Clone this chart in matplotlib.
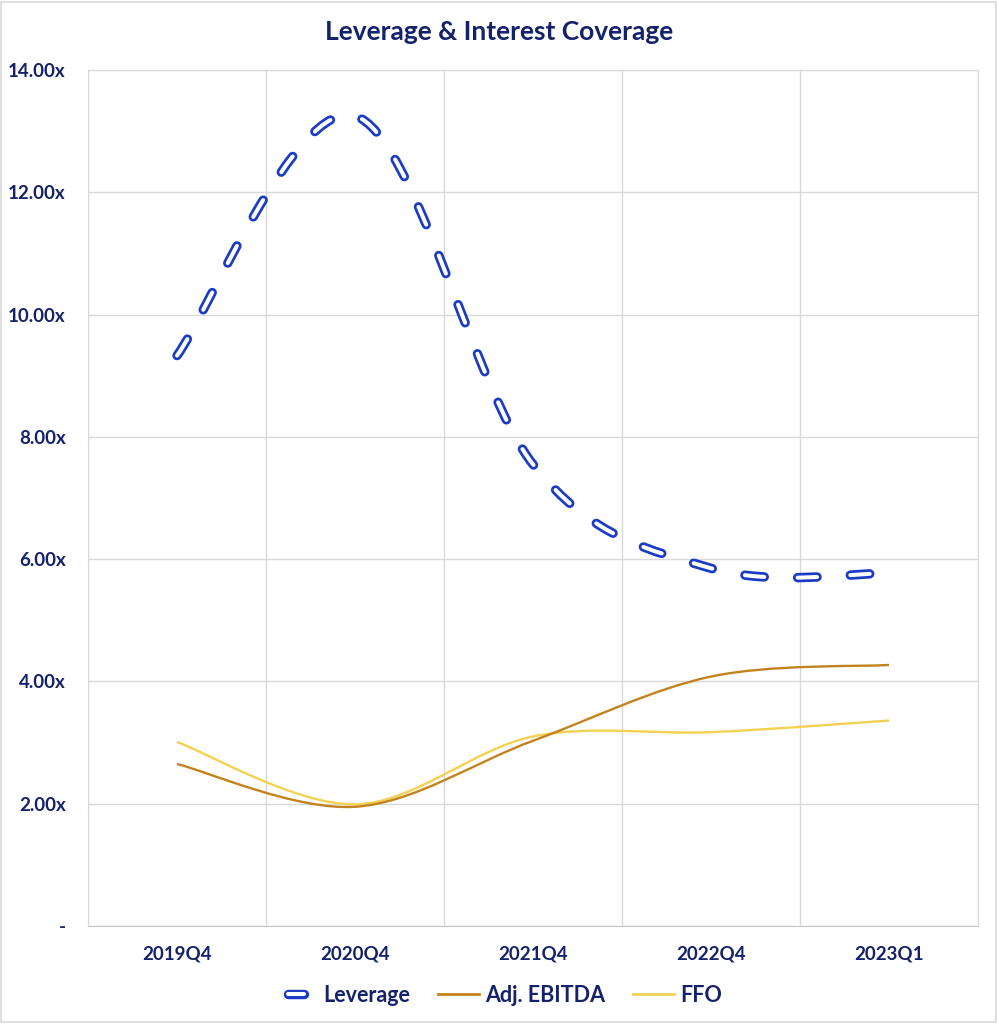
#!/usr/bin/env python3
"""Leverage & interest coverage chart, Excel-style smoothed lines."""

import matplotlib

matplotlib.use("Agg")
import matplotlib.pyplot as plt
import matplotlib.patheffects as pe
import numpy as np
from matplotlib.legend_handler import HandlerLine2D
from matplotlib.lines import Line2D
from matplotlib.patches import PathPatch, Rectangle
from matplotlib.path import Path
from matplotlib.ticker import FuncFormatter, MultipleLocator

periods = ["2019Q4", "2020Q4", "2021Q4", "2022Q4", "2023Q1"]
leverage = [9.33, 13.25, 7.55, 5.85, 5.77]
adj_ebitda = [2.65, 1.95, 3.03, 4.08, 4.27]
ffo = [3.01, 1.99, 3.10, 3.17, 3.36]

NAVY = "#14216b"
BLUE = "#1a3bc4"
GOLD = "#c2831f"
YELLOW = "#f3d152"
GRID = "#d9d9d9"

plt.rcParams["font.family"] = ["Lato", "DejaVu Sans"]
plt.rcParams["font.weight"] = "bold"
plt.rcParams["lines.scale_dashes"] = False


def smooth_path(ys):
    """Bezier path through the points, same idea as Excel's smoothed line."""
    pts = list(enumerate(ys))
    verts = [pts[0]]
    codes = [Path.MOVETO]
    n = len(pts)
    for i in range(n - 1):
        p0 = pts[max(i - 1, 0)]
        p1 = pts[i]
        p2 = pts[i + 1]
        p3 = pts[min(i + 2, n - 1)]
        c1 = (p1[0] + (p2[0] - p0[0]) / 6, p1[1] + (p2[1] - p0[1]) / 6)
        c2 = (p2[0] - (p3[0] - p1[0]) / 6, p2[1] - (p3[1] - p1[1]) / 6)
        verts += [c1, c2, p2]
        codes += [Path.CURVE4] * 3
    return Path(verts, codes)


class ShortDashHandler(HandlerLine2D):
    # legend key for the dashed series is one short dash, like Excel draws it
    def get_xdata(self, legend, xdescent, ydescent, width, height, fontsize):
        xdata = np.array([0.3 * width, 0.7 * width]) - xdescent
        return xdata, xdata


fig = plt.figure(figsize=(9.98, 10.24), dpi=100)
ax = fig.add_axes([0.0882, 0.0957, 0.8918, 0.8359])

outline = [pe.Stroke(linewidth=6.8, foreground=BLUE), pe.Normal()]
dash = (0, (14, 24))
ax.add_patch(PathPatch(smooth_path(leverage), fill=False, edgecolor="white", lw=2.9,
                       linestyle=dash, capstyle="round", joinstyle="round",
                       path_effects=outline, zorder=4))
ax.add_patch(PathPatch(smooth_path(adj_ebitda), fill=False, edgecolor=GOLD, lw=1.7,
                       capstyle="butt", zorder=3))
ax.add_patch(PathPatch(smooth_path(ffo), fill=False, edgecolor=YELLOW, lw=1.7,
                       capstyle="butt", zorder=2))

ax.set_xlim(-0.5, len(periods) - 0.5)
ax.set_ylim(0, 14)
ax.set_xticks(range(len(periods)))
ax.set_xticklabels(periods)
ax.xaxis.set_minor_locator(MultipleLocator(1, offset=0.5))
ax.yaxis.set_major_locator(MultipleLocator(2))
ax.yaxis.set_major_formatter(FuncFormatter(lambda v, _: "-" if v == 0 else f"{v:.2f}x"))
ax.grid(True, which="minor", axis="x", color=GRID, lw=1)
ax.grid(True, which="major", axis="y", color=GRID, lw=1)
ax.set_axisbelow(True)
ax.tick_params(which="both", length=0)
ax.tick_params(axis="x", pad=14, labelsize=13.5, labelcolor=NAVY)
ax.tick_params(axis="y", pad=16, labelsize=13.5, labelcolor=NAVY)
for side in ["left", "right", "top"]:
    ax.spines[side].set_color(GRID)
ax.spines["bottom"].set_color("#c8c8c8")

fig.suptitle("Leverage & Interest Coverage", x=0.5, y=0.969, color=NAVY,
             fontsize=19, fontweight="bold", va="center")

lev_key = Line2D([0], [0], color="white", lw=2.9, solid_capstyle="round",
                 path_effects=outline, label="Leverage")
handles = [
    lev_key,
    Line2D([0], [0], color=GOLD, lw=2, label="Adj. EBITDA"),
    Line2D([0], [0], color=YELLOW, lw=2, label="FFO"),
]
fig.legend(handles=handles, loc="center", bbox_to_anchor=(0.5, 0.028), ncol=3,
           frameon=False, fontsize=15.5, labelcolor=NAVY, handlelength=1.9,
           handletextpad=0.3, columnspacing=1.3,
           handler_map={lev_key: ShortDashHandler()})

fig.patches.append(Rectangle((0.001, 0.002), 0.997, 0.996, transform=fig.transFigure,
                             fill=False, edgecolor="#d9d9d9", lw=1.2))

fig.savefig("out.png", dpi=100, facecolor="white")
